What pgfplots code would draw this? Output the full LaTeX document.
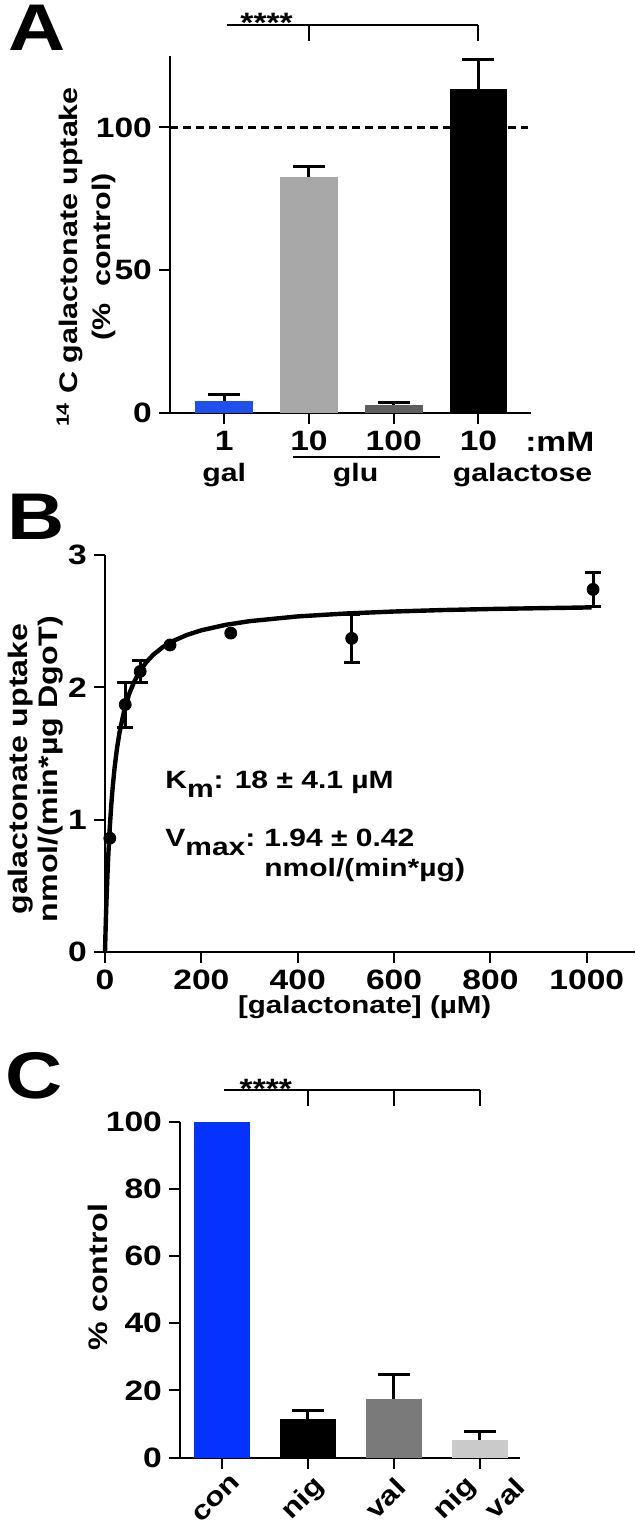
\documentclass[border=0pt]{standalone}
\usepackage{fontspec}
\setmainfont{Liberation Sans}[FakeStretch=1.2]
\usepackage{pgfplots}
\pgfplotsset{compat=1.18}

\definecolor{blueA}{RGB}{30,80,240}
\definecolor{blueC}{RGB}{5,50,255}
\definecolor{lgrayA}{RGB}{168,168,168}
\definecolor{dgrayA}{RGB}{95,95,95}
\definecolor{grayC}{RGB}{122,122,122}
\definecolor{lgrayC}{RGB}{202,202,202}

% GraphPad-like look: left/bottom axes, outside ticks, bold sans text
\pgfplotsset{
  gp/.style={
    scale only axis, axis lines=left, axis line style={-, line width=1pt},
    tick style={line width=1pt, black}, tick align=outside, major tick length=5.5pt,
    /pgf/number format/assume math mode=true,
    /pgf/number format/1000 sep={},
    tick label style={font=\bfseries\fontsize{14}{15}\selectfont},
    label style={font=\bfseries\fontsize{12.7}{15}\selectfont},
    clip=false,
  },
  bar/.style={ybar, bar width=#1, bar shift=0pt, draw=none},
  % upper error bar with cap; keep last in the option list
  eb/.style={error bars/.cd, y dir=plus, y explicit,
    error bar style={line width=1.5pt, black},
    error mark options={rotate=90, line width=1.5pt, black, mark size=8pt}},
}

\begin{document}
\begin{tikzpicture}
\useasboundingbox (0,0) rectangle (318pt,-762pt);

\node[font=\bfseries\fontsize{33}{33}\selectfont, inner sep=0] at (18.5pt,-14pt) {A};
\node[font=\bfseries\fontsize{33}{33}\selectfont, inner sep=0] at (18pt,-258.5pt) {B};
\node[font=\bfseries\fontsize{33}{33}\selectfont, inner sep=0] at (17pt,-538pt) {C};

% ---------- A ----------
\begin{axis}[gp, at={(85pt,-206.5pt)}, anchor=south west,
    width=180.5pt, height=178.5pt,
    xmin=-0.64, xmax=3.62, ymin=0, ymax=125,
    ytick={0,50,100}, xtick={0,1,2,3}, xticklabels={1,10,100,10},
    ylabel={\textsuperscript{14} C galactonate uptake\\(\%\ \ control)},
    ylabel style={at={(axis description cs:-0.232,0.437)}, anchor=center,
      align=center, font=\bfseries\fontsize{12.7}{16.5}\selectfont}]
\addplot[bar=0.68, fill=blueA, eb] coordinates {(0,4.3) +- (0,2.3)};
\addplot[bar=0.68, fill=lgrayA, eb] coordinates {(1,82.6) +- (0,3.8)};
\addplot[bar=0.68, fill=dgrayA, eb] coordinates {(2,2.8) +- (0,0.8)};
\addplot[bar=0.68, fill=black, eb] coordinates {(3,113.6) +- (0,10.1)};
\addplot[black, line width=1.5pt, dash pattern=on 4pt off 2.5pt] coordinates {(-0.64,100) (3.58,100)};
\draw[line width=1pt] (axis cs:0.03,135.7) -- (axis cs:3,135.7)
  (axis cs:1,135.7) -- (axis cs:1,130.4) (axis cs:3,135.7) -- (axis cs:3,130.4);
\node[anchor=base, font=\bfseries\fontsize{14}{14}\selectfont] at (axis cs:0.5,133.2) {****};
\node[anchor=base, font=\bfseries\fontsize{14}{15}\selectfont] at (axis cs:3.96,-13.6) {:mM};
\draw[line width=1.2pt] (axis cs:0.81,-15.4) -- (axis cs:2.55,-15.4);
\node[anchor=base, font=\bfseries\fontsize{12.6}{15}\selectfont] at (axis cs:0,-24.1) {gal};
\node[anchor=base, font=\bfseries\fontsize{12.6}{15}\selectfont] at (axis cs:1.55,-24.1) {glu};
\node[anchor=base, font=\bfseries\fontsize{12.6}{15}\selectfont] at (axis cs:3.52,-24.1) {galactose};
\end{axis}

% ---------- B ----------
\begin{axis}[gp, at={(52.5pt,-476pt)}, anchor=south west,
    width=265pt, height=198.5pt,
    xmin=0, xmax=1100, ymin=0, ymax=3,
    xtick={0,200,400,600,800,1000}, ytick={0,1,2,3},
    xlabel={[galactonate] (µM)},
    ylabel={galactonate uptake\\nmol/(min*µg DgoT)},
    ylabel style={at={(axis description cs:-0.131,0.461)}, anchor=center,
      align=center, font=\bfseries\fontsize{13.4}{15}\selectfont},
    xlabel style={at={(axis description cs:0.49,-0.138)}, anchor=center,
      font=\bfseries\fontsize{12.3}{15}\selectfont}]
\addplot[black, line width=2.2pt] coordinates {
  (0,0) (1,0.139) (2,0.265) (3,0.379) (5,0.576) (7,0.742) (10,0.946) (13,1.111)
  (16,1.247) (20,1.395) (25,1.541) (30,1.656) (40,1.828) (50,1.949) (60,2.038)
  (70,2.108) (85,2.187) (100,2.246) (120,2.304) (140,2.348) (170,2.396) (200,2.431)
  (250,2.472) (300,2.500) (400,2.536) (500,2.558) (600,2.573) (700,2.584)
  (800,2.592) (900,2.598) (1010,2.604)};
\addplot[only marks, mark=*, mark size=3pt, black] coordinates {
  (10,0.86) (135,2.32) (261,2.41)};
\addplot[only marks, mark=*, mark size=3pt, black,
    error bars/.cd, y dir=both, y explicit,
    error bar style={line width=1.5pt, black},
    error mark options={rotate=90, line width=1.5pt, black, mark size=4pt}] coordinates {
  (42,1.87) +- (0,0.17) (73,2.12) +- (0,0.085) (512,2.37) +- (0,0.18) (1013,2.74) +- (0,0.13)};
\node[anchor=base west, inner sep=0, font=\bfseries\fontsize{12.5}{15}\selectfont]
  at (axis cs:124.5,1.232) {K\raisebox{-0.33em}{m}: 18 ± 4.1 µM};
\node[anchor=base west, inner sep=0, font=\bfseries\fontsize{12.5}{15}\selectfont]
  at (axis cs:124.5,0.794) {V\raisebox{-0.33em}{max}:};
\node[anchor=base west, inner sep=0, font=\bfseries\fontsize{12.5}{15}\selectfont]
  at (axis cs:330,0.794) {1.94 ± 0.42};
\node[anchor=base west, inner sep=0, font=\bfseries\fontsize{12.5}{15}\selectfont]
  at (axis cs:330,0.574) {nmol/(min*µg)};
\end{axis}

% ---------- C ----------
\begin{axis}[gp, at={(90pt,-728.75pt)}, anchor=south west,
    width=170pt, height=167.75pt,
    xmin=-0.49, xmax=3.47, ymin=0, ymax=100,
    ytick={0,20,40,60,80,100}, xtick={0,1,2,3}, xticklabels={,,,},
    ylabel={\% control},
    ylabel style={at={(axis description cs:-0.241,0.538)}, anchor=center,
      font=\bfseries\fontsize{13.4}{15}\selectfont}]
\addplot[bar=0.65, fill=blueC] coordinates {(0,100)};
\addplot[bar=0.65, fill=black, eb] coordinates {(1,11.6) +- (0,2.4)};
\addplot[bar=0.65, fill=grayC, eb] coordinates {(2,17.5) +- (0,7.1)};
\addplot[bar=0.65, fill=lgrayC, eb] coordinates {(3,5.3) +- (0,2.5)};
\draw[line width=1pt] (axis cs:0.02,109.4) -- (axis cs:3,109.4)
  (axis cs:1,109.4) -- (axis cs:1,104.9) (axis cs:2,109.4) -- (axis cs:2,104.9)
  (axis cs:3,109.4) -- (axis cs:3,104.9);
\node[anchor=base, font=\bfseries\fontsize{14}{14}\selectfont] at (axis cs:0.51,107) {****};
\node[rotate=45, font=\bfseries\fontsize{13.2}{15}\selectfont] at (axis cs:-0.07,-12.2) {con};
\node[rotate=45, font=\bfseries\fontsize{13.2}{15}\selectfont] at (axis cs:0.95,-12.4) {nig};
\node[rotate=45, font=\bfseries\fontsize{13.2}{15}\selectfont] at (axis cs:1.90,-12.2) {val};
\node[rotate=45, font=\bfseries\fontsize{13.2}{15}\selectfont] at (axis cs:2.72,-12.4) {nig};
\node[rotate=45, font=\bfseries\fontsize{13.2}{15}\selectfont] at (axis cs:3.29,-12.0) {val};
\end{axis}
\end{tikzpicture}
\end{document}
